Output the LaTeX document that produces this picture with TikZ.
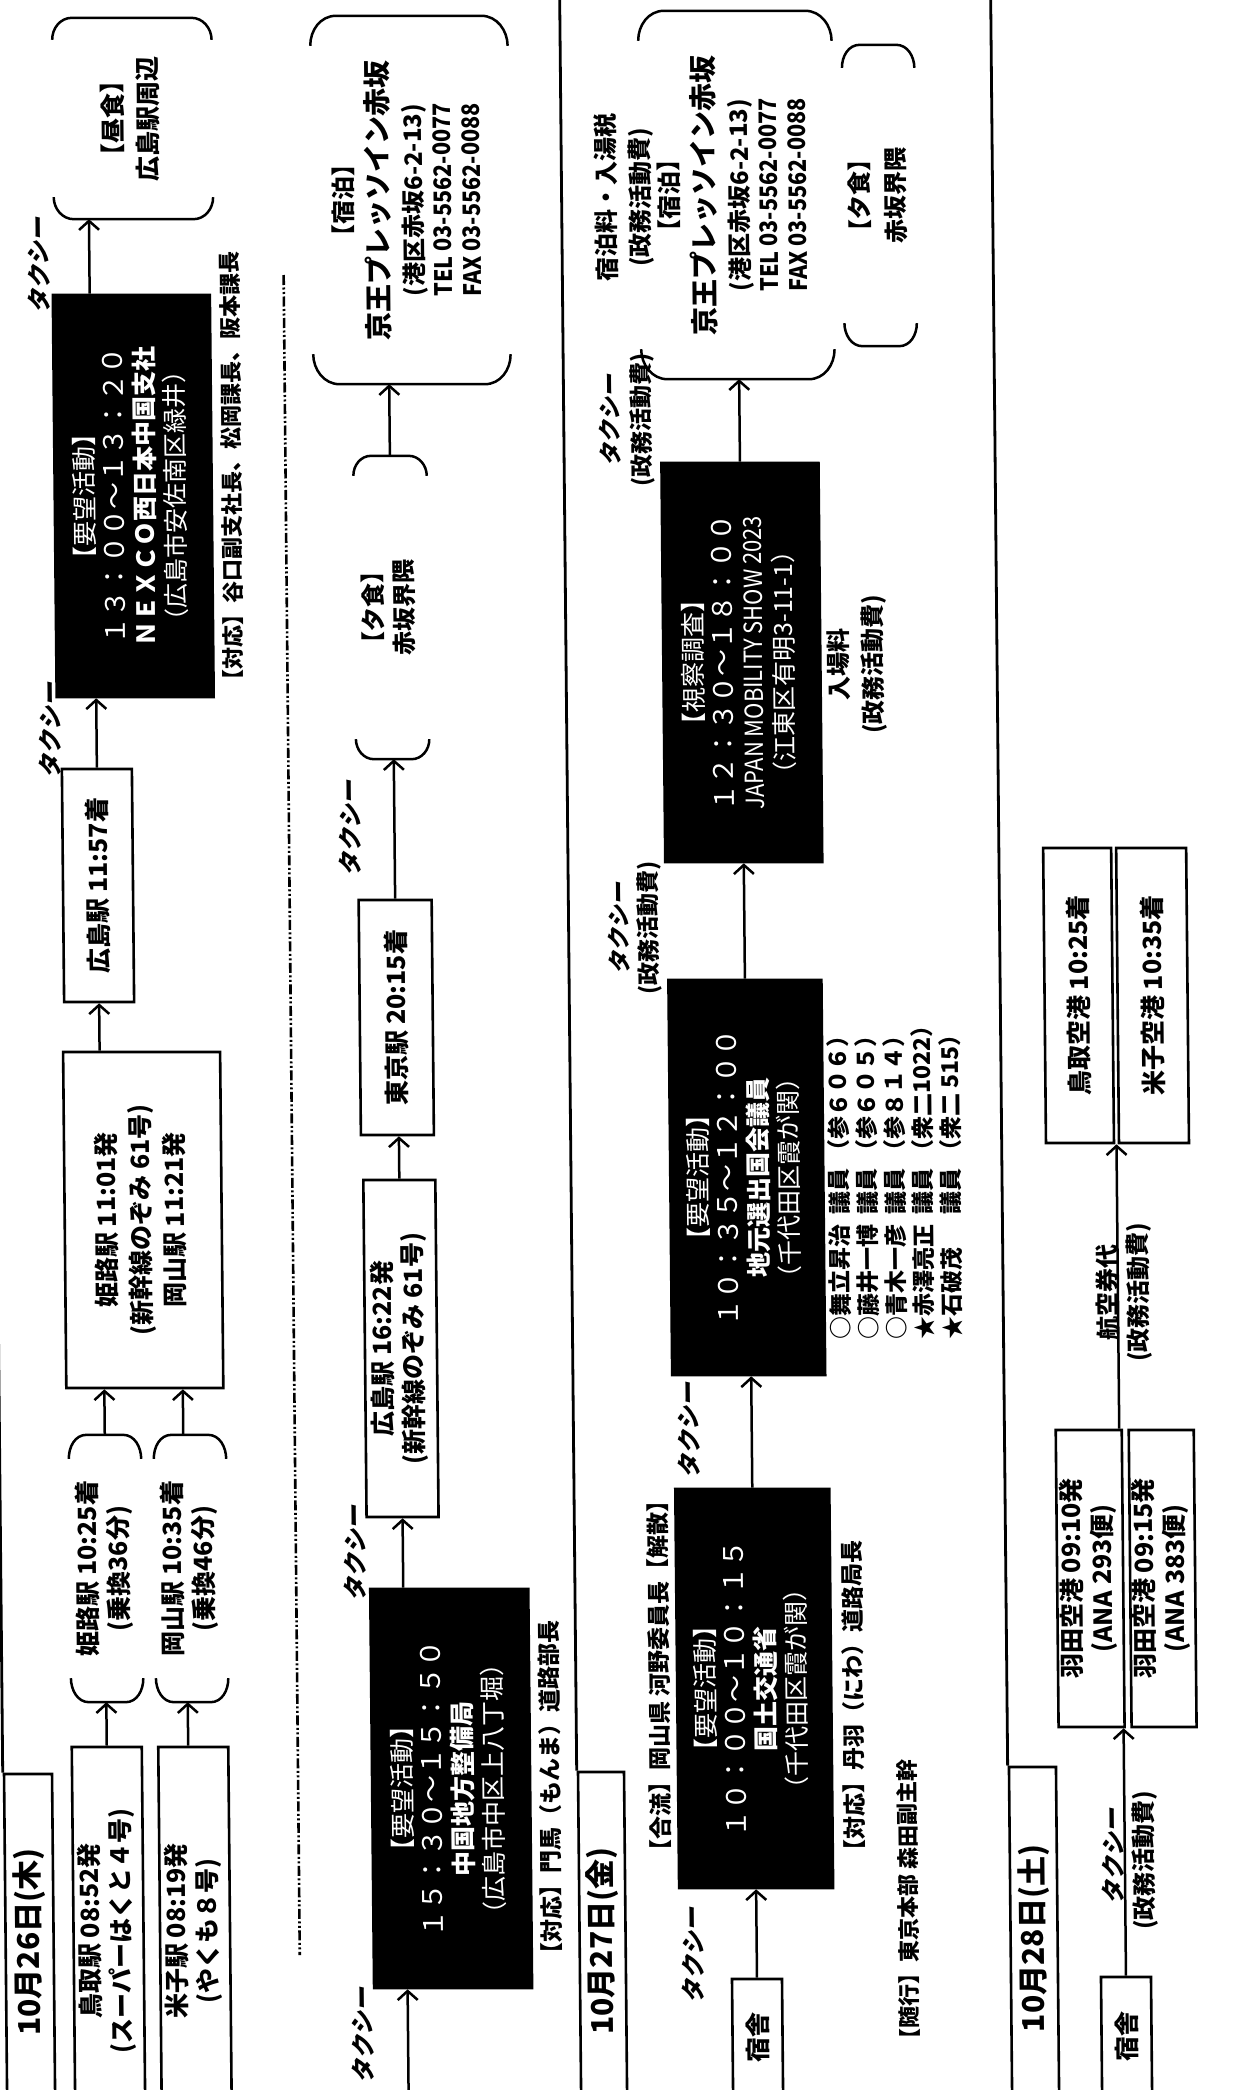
\documentclass[tikz,border=0pt]{standalone}
\usepackage{fontspec}
\setmainfont{Noto Sans CJK JP}
\newfontfamily\taxifont{Noto Sans CJK JP}[FakeSlant=0.22]
\usetikzlibrary{arrows.meta,calc}
\newcommand\rtext[1]{\rotatebox{90}{\begin{tabular}{@{}c@{}}#1\end{tabular}}}
\newcommand\rline[1]{\rotatebox{90}{#1}}
\newcommand\setfs[2]{\fontsize{#1}{#2}\selectfont}
\newcommand\drawbracket[3]{%
 \draw[brkline] ([yshift=-#3]#1.north west) to[out=90,in=180] ([xshift=#2]#1.north west) -- ([xshift=-#2]#1.north east) to[out=0,in=90] ([yshift=-#3]#1.north east);
 \draw[brkline] ([yshift=#3]#1.south west) to[out=-90,in=180] ([xshift=#2]#1.south west) -- ([xshift=-#2]#1.south east) to[out=0,in=-90] ([yshift=#3]#1.south east);}
\tikzset{
 wbox/.style={draw, line width=2.6pt, fill=white, inner sep=0pt, font=\setfs{25}{31}\bfseries},
 bbox/.style={draw, line width=2.6pt, fill=black, text=white, inner sep=0pt, font=\setfs{25}{30}},
 brk/.style={inner sep=0pt, font=\setfs{25}{31}\bfseries},
 lbl/.style={inner sep=0pt, font=\setfs{23}{28}\bfseries},
 taxi/.style={inner sep=0pt, font=\setfs{24}{30}\taxifont\bfseries},
 datetab/.style={draw, line width=2.6pt, fill=white, inner sep=0pt, font=\setfs{30}{36}\bfseries},
 arr/.style={-{Straight Barb[length=9pt,width=20pt]}, line width=2.5pt},
 brkline/.style={line width=2.5pt},
 frameline/.style={line width=2.8pt},
 sepline/.style={line width=2.6pt, dash pattern=on 10pt off 2.5pt on 2pt off 2.5pt on 2pt off 2.5pt},
}
\begin{document}
\begin{tikzpicture}[x=1pt,y=1pt]
\useasboundingbox (0,0) rectangle (1233,-2090);
\fill[white] (0,0) rectangle (1233,-2090);
\clip (0,0) rectangle (1233,-2090);
\begin{scope}[xslant=-0.0096, transform shape]

%%%%%%%%%%%%%%%% 10/26
\node[datetab, minimum width=48pt, minimum height=336pt] (d26) at (11,-1942) {\rline{10月26日(木)}};
\draw[frameline] (d26.north west) -- ++(0,1900);

\node[wbox, minimum width=70pt, minimum height=368pt] (tottori) at (90,-1931) {\rtext{鳥取駅 08:52発\\(スーパーはくと４号)}};
\node[wbox, minimum width=70pt, minimum height=368pt] (yonago) at (176.5,-1931) {\rtext{米子駅 08:19発\\(やくも８号)}};

\node[brk, minimum width=72pt, minimum height=267pt] (hjA) at (91,-1568.5) {\rtext{姫路駅 10:25着\\(乗換36分)}};
\node[brk, minimum width=72pt, minimum height=267pt] (okA) at (176,-1568.5) {\rtext{岡山駅 10:35着\\(乗換46分)}};
\drawbracket{hjA}{18pt}{24pt}
\drawbracket{okA}{18pt}{24pt}

\node[wbox, minimum width=157pt, minimum height=336pt, font=\setfs{25}{34}\bfseries] (himeji) at (131.5,-1220) {\rtext{姫路駅 11:01発\\(新幹線のぞみ 61号)\\岡山駅 11:21発}};
\node[wbox, minimum width=70pt, minimum height=233pt] (hiroA) at (89.5,-885.5) {\rline{広島駅 11:57着}};
\node[bbox, minimum width=157pt, minimum height=402pt] (nexco) at (128.5,-496) {\rtext{【要望活動】\\\setfs{27}{30}１３：００～１３：２０\\\bfseries ＮＥＸＣＯ西日本中国支社\\（広島市安佐南区緑井）}};
\node[brk, minimum width=159pt, minimum height=201pt, font=\setfs{25}{35}\bfseries] (lunch) at (131.5,-118.5) {\rtext{【昼食】\\広島駅周辺}};
\drawbracket{lunch}{20pt}{22pt}

\node[lbl, anchor=south, font=\setfs{22}{28}\bfseries] (taiouA) at (227,-692) {\rline{【対応】谷口副支社長、松岡課長、阪本課長}};
\node[taxi] (tx1) at (36,-265) {\rline{タクシー}};
\node[taxi] (tx2) at (43,-730) {\rline{タクシー}};

\coordinate (ya) at ($(yonago.north west)!0.43!(yonago.north east)$);
\coordinate (oa) at ($(okA.north west)!0.41!(okA.north east)$);
\coordinate (na) at ($(nexco.north west)!0.239!(nexco.north east)$);
\draw[arr] (tottori.north) -- (tottori.north |- hjA.south);
\draw[arr] (ya) -- (ya |- okA.south);
\draw[arr] (hjA.north) -- (hjA.north |- himeji.south);
\draw[arr] (oa) -- (oa |- himeji.south);
\draw[arr] (hiroA.south |- himeji.north) -- (hiroA.south);
\draw[arr] (hiroA.north) -- (hiroA.north |- nexco.south);
\draw[arr] (na) -- (na |- lunch.south);

\coordinate (septop) at (281,-275);
\coordinate (sepbot) at (281,-1955);
\draw[sepline] (septop) -- (sepbot);

% right column 10/26
\node[brk, minimum width=197pt, minimum height=368pt, font=\setfs{24}{29}\bfseries] (stayA) at (408.5,-200) {\rtext{【宿泊】\\[3pt]{\setfs{28}{29}京王プレッソイン赤坂}\\[5pt](港区赤坂6-2-13)\\\scalebox{0.9}[1]{TEL 03-5562-0077}\\\scalebox{0.9}[1]{FAX 03-5562-0088}}};
\drawbracket{stayA}{26pt}{30pt}
\node[brk, minimum width=73pt, minimum height=303pt, font=\setfs{24}{31}\bfseries] (dinA) at (385.5,-607.5) {\rtext{【夕食】\\赤坂界隈}};
\drawbracket{dinA}{18pt}{20pt}
\node[wbox, minimum width=73pt, minimum height=235pt] (tokyo) at (386.5,-1017.5) {\rline{東京駅 20:15着}};
\node[wbox, minimum width=72pt, minimum height=337pt] (hiroB) at (388,-1348.5) {\rtext{広島駅 16:22発\\(新幹線のぞみ 61号)}};
\node[bbox, minimum width=158pt, minimum height=399pt] (chugoku) at (434,-1788.5) {\rtext{【要望活動】\\\setfs{27}{30}１５：３０～１５：５０\\\bfseries 中国地方整備局\\（広島市中区上八丁堀）}};
\node[lbl, anchor=south] (taiouB) at (533,-1966) {\rline{【対応】門馬（もんま）道路部長}};
\node[taxi] (tx3) at (342,-828) {\rline{タクシー}};
\node[taxi] (tx4) at (340,-1553) {\rline{タクシー}};
\node[taxi] (tx5) at (343,-2035) {\rline{タクシー}};
\coordinate (cgin) at (388.5,-2120);
\draw[arr] (cgin) -- (cgin |- chugoku.south);
\draw[arr] (hiroB.south |- chugoku.north) -- (hiroB.south);
\draw[arr] (hiroB.north) -- (hiroB.north |- tokyo.south);
\draw[arr] (tokyo.north) -- (tokyo.north |- dinA.south);
\draw[arr] (dinA.north) -- (dinA.north |- stayA.south);

%%%%%%%%%%%%%%%% 10/27
\node[datetab, minimum width=46pt, minimum height=338pt] (d27) at (584,-1941) {\rline{10月27日(金)}};
\draw[frameline] (d27.north west) -- ++(0,1900);

\node[brk, minimum width=193pt, minimum height=368pt, font=\setfs{24}{29}\bfseries] (stayB) at (734.5,-195) {\rtext{【宿泊】\\[3pt]{\setfs{28}{29}京王プレッソイン赤坂}\\[5pt](港区赤坂6-2-13)\\\scalebox{0.9}[1]{TEL 03-5562-0077}\\\scalebox{0.9}[1]{FAX 03-5562-0088}}};
\drawbracket{stayB}{26pt}{30pt}
\node[lbl, font=\setfs{24}{34}\bfseries] (feeA) at (623.5,-197) {\rtext{宿泊料・入湯税\\(政務活動費)}};
\node[brk, minimum width=65pt, minimum height=301pt, font=\setfs{24}{36}\bfseries] (dinB) at (877.5,-195.5) {\rtext{【夕食】\\赤坂界隈}};
\drawbracket{dinB}{18pt}{23pt}

\node[bbox, minimum width=157pt, minimum height=399pt] (shisatsu) at (735.5,-662.5) {\rtext{【視察調査】\\\setfs{27}{30}１２：３０～１８：００\\\scalebox{0.88}[1]{JAPAN MOBILITY SHOW 2023}\\（江東区有明3-11-1）}};
\node[lbl, font=\setfs{24}{34}\bfseries] (feeB) at (851.5,-664) {\rtext{入場料\\(政務活動費)}};
\node[bbox, minimum width=153pt, minimum height=395pt] (jimoto) at (735.5,-1177.5) {\rtext{【要望活動】\\\setfs{27}{30}１０：３５～１２：００\\\bfseries 地元選出国会議員\\（千代田区霞が関）}};
\node[lbl, anchor=south, font=\setfs{23}{27}\bfseries] (members) at (886.5,-1340) {\rotatebox{90}{\begin{tabular}{@{}l@{\hspace{10pt}}l@{\hspace{6pt}}l@{}}
○舞立昇治 & 議員 & （参６０６）\\
○藤井一博 & 議員 & （参６０５）\\
○青木一彦 & 議員 & （参８１４）\\
★赤澤亮正 & 議員 & （衆二1022）\\
★石破茂 & 議員 & （衆二 515）
\end{tabular}}};
\node[bbox, minimum width=154pt, minimum height=399pt] (kokudo) at (738,-1688.5) {\rtext{【要望活動】\\\setfs{27}{30}１０：００～１０：１５\\\bfseries 国土交通省\\（千代田区霞が関）}};
\node[lbl, anchor=south] (goryu) at (643,-1863) {\rline{【合流】岡山県 河野委員長【解散】}};
\node[lbl, anchor=south] (taiouC) at (837,-1863) {\rline{【対応】丹羽（にわ）道路局長}};
\node[lbl, anchor=south, font=\setfs{22}{28}\bfseries] (zuiko) at (890,-2051) {\rline{【随行】東京本部 森田副主幹}};
\node[wbox, minimum width=50pt, minimum height=116pt] (shuku27) at (738,-2037) {\rline{宿舎}};

\node[taxi] (tx6) at (674,-1955) {\rline{タクシー}};
\node[taxi] (tx7) at (675,-1430) {\rline{タクシー}};
\node[lbl, font=\setfs{23}{29}\bfseries] (tx8) at (627.5,-928) {\rtext{{\taxifont タクシー}\\(政務活動費)}};
\node[lbl, font=\setfs{23}{31}\bfseries] (tx9) at (624,-420) {\rtext{{\taxifont タクシー}\\(政務活動費)}};

\draw[arr] (shuku27.north) -- (shuku27.north |- kokudo.south);
\draw[arr] (kokudo.north) -- (kokudo.north |- jimoto.south);
\draw[arr] (jimoto.north) -- (jimoto.north |- shisatsu.south);
\draw[arr] (shisatsu.north) -- (shisatsu.north |- stayB.south);

%%%%%%%%%%%%%%%% 10/28
\node[datetab, minimum width=47pt, minimum height=343pt] (d28) at (1015.5,-1938.5) {\rline{10月28日(土)}};
\draw[frameline] (d28.north west) -- ++(0,1900);

\node[wbox, minimum width=68pt, minimum height=295pt] (tottoriAP) at (1069,-995.5) {\rline{鳥取空港 10:25着}};
\node[wbox, minimum width=70pt, minimum height=295pt] (yonagoAP) at (1143,-995.5) {\rline{米子空港 10:35着}};
\node[wbox, minimum width=66pt, minimum height=297pt] (haneda1) at (1075,-1578.5) {\rtext{羽田空港 09:10発\\(ANA 293便)}};
\node[wbox, minimum width=65pt, minimum height=297pt] (haneda2) at (1147.5,-1578.5) {\rtext{羽田空港 09:15発\\(ANA 383便)}};
\node[wbox, minimum width=50pt, minimum height=119pt] (shuku28) at (1107,-2036.5) {\rline{宿舎}};

\node[lbl, font=\setfs{24}{30}\bfseries] (air1) at (1095,-1292) {\rline{航空券代}};
\node[lbl, font=\setfs{24}{30}\bfseries] (air2) at (1127,-1292) {\rline{(政務活動費)}};
\node[taxi] (tx10) at (1095,-1856) {\rline{タクシー}};
\node[lbl, font=\setfs{24}{30}\bfseries] (tx10b) at (1127,-1860) {\rline{(政務活動費)}};

\coordinate (apgap) at ($(tottoriAP.south east)!0.5!(yonagoAP.south west)$);
\draw[arr] (apgap |- haneda1.north) -- (apgap);
\draw[arr] (shuku28.north) -- (shuku28.north |- haneda1.south);

\end{scope}
\end{tikzpicture}
\end{document}
